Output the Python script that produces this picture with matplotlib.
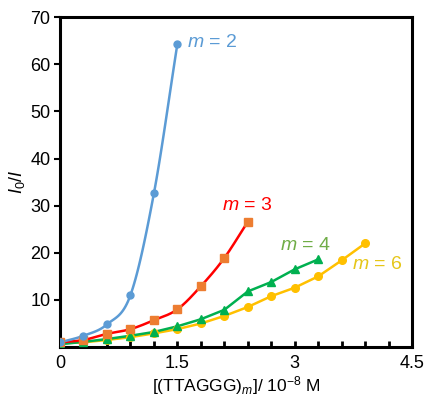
import numpy as np
import matplotlib
matplotlib.use("Agg")
import matplotlib.pyplot as plt

plt.rcParams['font.family'] = ['Liberation Sans', 'DejaVu Sans']
plt.rcParams['mathtext.fontset'] = 'custom'
plt.rcParams['mathtext.rm'] = 'Liberation Sans'
plt.rcParams['mathtext.it'] = 'Liberation Sans:italic'
plt.rcParams['mathtext.bf'] = 'Liberation Sans:bold'

x2 = [0, 0.3, 0.6, 0.9, 1.2, 1.5]
y2 = [1.0, 2.4, 4.8, 11.0, 32.6, 64.3]
x3 = [0, 0.3, 0.6, 0.9, 1.2, 1.5, 1.8, 2.1, 2.4]
y3 = [1.0, 1.5, 2.8, 3.8, 5.7, 8.0, 12.9, 18.9, 26.6]
x4 = [0, 0.3, 0.6, 0.9, 1.2, 1.5, 1.8, 2.1, 2.4, 2.7, 3.0, 3.3]
y4 = [0.6, 1.1, 1.7, 2.4, 3.2, 4.4, 5.9, 7.9, 11.8, 13.8, 16.5, 18.6]
x6 = [0, 0.3, 0.6, 0.9, 1.2, 1.5, 1.8, 2.1, 2.4, 2.7, 3.0, 3.3, 3.6, 3.9]
y6 = [0.8, 1.0, 1.5, 2.1, 2.9, 3.8, 5.0, 6.6, 8.5, 10.8, 12.6, 15.0, 18.4, 22.0]
xticks = [0, 1.5, 3, 4.5]
xtick_labels = ["0", "1.5", "3", "4.5"]
yticks = [10, 20, 30, 40, 50, 60, 70]


def catmull(x, y, n=20):
    x = np.asarray(x, float); y = np.asarray(y, float)
    px = np.concatenate([[2 * x[0] - x[1]], x, [2 * x[-1] - x[-2]]])
    py = np.concatenate([[2 * y[0] - y[1]], y, [2 * y[-1] - y[-2]]])
    t = np.linspace(0, 1, n)[:, None]
    xs, ys = [], []
    for i in range(1, len(px) - 2):
        for p, out in ((px, xs), (py, ys)):
            p0, p1, p2, p3 = p[i - 1], p[i], p[i + 1], p[i + 2]
            c = 0.5 * ((2 * p1) + (-p0 + p2) * t + (2 * p0 - 5 * p1 + 4 * p2 - p3) * t ** 2
                       + (-p0 + 3 * p1 - 3 * p2 + p3) * t ** 3)
            out.append(c.ravel())
    return np.concatenate(xs), np.concatenate(ys)


fig = plt.figure(figsize=(4.30, 3.98), dpi=100)
ax = fig.add_axes([0.1395, 0.128, 0.819, 0.829])

blue = "#5b9bd5"
red = "#ff0000"
orange = "#ed7d31"
green = "#00b050"
yellow = "#ffc000"

# m = 6
ax.plot(x6, y6, color=yellow, lw=1.8, zorder=2)
ax.plot(x6, y6, 'o', color=yellow, ms=5.5, zorder=3)
# m = 4
ax.plot(x4, y4, color=green, lw=1.8, zorder=2)
ax.plot(x4, y4, '^', color=green, ms=6, zorder=3)
# m = 3
sx, sy = catmull(x3, y3)
ax.plot(sx, sy, color=red, lw=1.8, zorder=2)
ax.plot(x3, y3, 's', color=orange, ms=6, zorder=3)
# m = 2
sx, sy = catmull(x2, y2)
ax.plot(sx, sy, color=blue, lw=1.8, zorder=2)
ax.plot(x2, y2, 'o', color=blue, ms=5, zorder=3)

fs = 14
ax.text(1.62, 64.6, r"$m$ = 2", color=blue, fontsize=fs, va='center')
ax.text(2.07, 30.0, r"$m$ = 3", color=red, fontsize=fs, va='center')
ax.text(2.81, 21.6, r"$m$ = 4", color="#70ad47", fontsize=fs, va='center')
ax.text(3.73, 17.5, r"$m$ = 6", color="#e6c619", fontsize=fs, va='center')

ax.set_xlim(0, 4.5)
ax.set_ylim(0, 70)
ax.set_xticks(xticks)
ax.set_xticklabels(xtick_labels)
ax.set_xticks(np.arange(0, 4.5, 0.3), minor=True)
ax.set_yticks(yticks)
ax.tick_params(axis='x', which='both', direction='in', length=4, width=2, labelsize=13, pad=6)
ax.tick_params(axis='y', which='major', direction='out', length=4, width=1.5, labelsize=13, pad=3)
for s in ax.spines.values():
    s.set_linewidth(2.2)

ax.set_xlabel(r"[(TTAGGG)$_m$]/ 10$^{-8}$ M", fontsize=12.5, labelpad=1)
ax.set_ylabel(r"$I_0/I$", fontsize=13, labelpad=2)

fig.savefig("out.png", dpi=100)
